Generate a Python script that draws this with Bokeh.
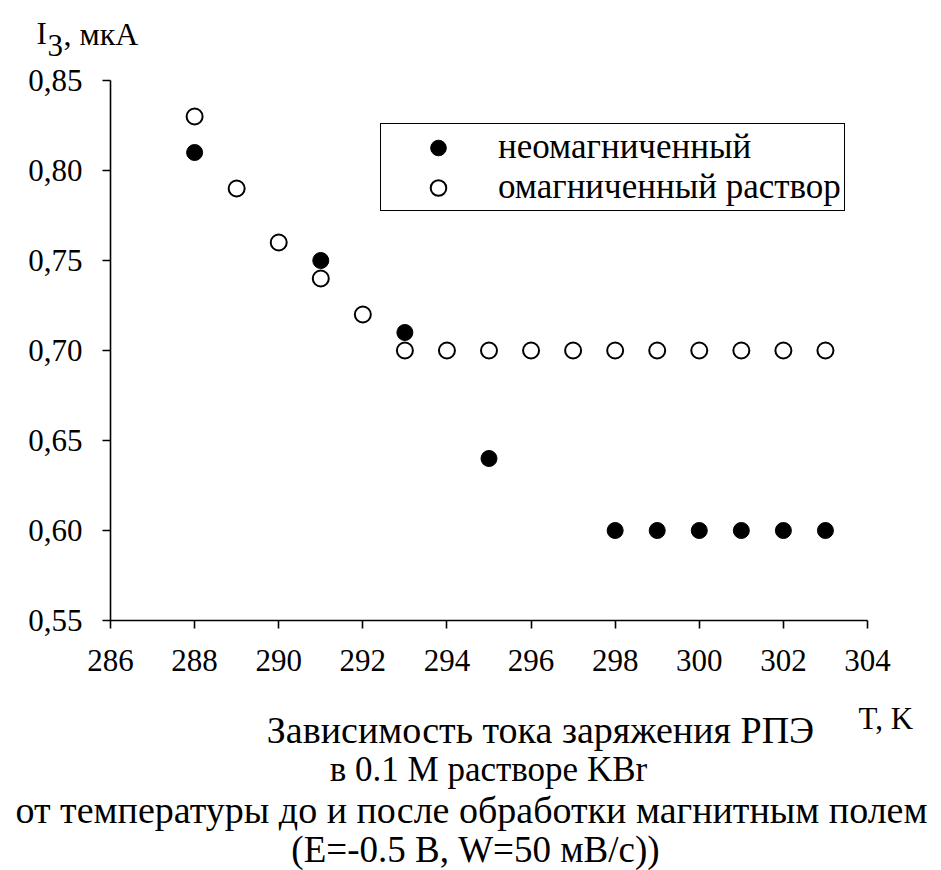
from bokeh.plotting import figure
from bokeh.models import (FixedTicker, CustomJSTickFormatter, Label, Legend, LegendItem)
from bokeh.embed import file_html
from bokeh.resources import INLINE

# ---- data ----
t_plain = [288, 291, 293, 295, 298, 299, 300, 301, 302, 303]
i_plain = [0.81, 0.75, 0.71, 0.64, 0.60, 0.60, 0.60, 0.60, 0.60, 0.60]
t_magn = [288, 289, 290, 291, 292, 293, 294, 295, 296, 297, 298, 299, 300, 301, 302, 303]
i_magn = [0.83, 0.79, 0.76, 0.74, 0.72, 0.70, 0.70, 0.70, 0.70, 0.70, 0.70, 0.70, 0.70, 0.70, 0.70, 0.70]
x_ticks = [286, 288, 290, 292, 294, 296, 298, 300, 302, 304]
y_ticks = [0.55, 0.60, 0.65, 0.70, 0.75, 0.80, 0.85]
legend_labels = ["неомагниченный", "омагниченный раствор"]
y_title_parts = ["I", "3", ", мкА"]
x_title = "T, K"
caption = ["Зависимость тока заряжения РПЭ",
           "в 0.1 М растворе KBr",
           "от температуры до и после обработки магнитным полем",
           "(Е=-0.5 В, W=50 мВ/с))"]

FONT = "Liberation Serif"
W, H = 941, 870
# pixel geometry of the plotting box inside the canvas
L, R, T, B = 110, 867, 80, 620
X0, X1 = 286, 304
Y0, Y1 = 0.55, 0.85
sx = (R - L) / (X1 - X0)
sy = (B - T) / (Y1 - Y0)
xr = (X0 - L / sx, X1 + (W - R) / sx)
yr = (Y0 - (H - B) / sy, Y1 + T / sy)

p = figure(width=W, height=H, x_range=xr, y_range=yr,
           output_backend="svg", toolbar_location=None, min_border=0,
           min_border_left=0, min_border_right=0, min_border_top=0, min_border_bottom=0)
p.outline_line_color = None
p.xgrid.visible = False
p.ygrid.visible = False
p.background_fill_color = "white"
p.border_fill_color = "white"

for ax in (p.xaxis[0], p.yaxis[0]):
    ax.axis_line_width = 1.6
    ax.axis_line_color = "black"
    ax.major_tick_line_color = "black"
    ax.major_tick_line_width = 1.6
    ax.major_tick_out = 8
    ax.major_tick_in = 0
    ax.minor_tick_line_color = None
    ax.major_label_text_font = FONT
    ax.major_label_text_font_size = "31px"
    ax.major_label_text_color = "black"

p.xaxis[0].ticker = FixedTicker(ticks=x_ticks)
p.yaxis[0].ticker = FixedTicker(ticks=y_ticks)
p.xaxis[0].bounds = (X0, X1)
p.yaxis[0].bounds = (Y0, Y1)
p.xaxis[0].fixed_location = Y0
p.yaxis[0].fixed_location = X0
p.yaxis[0].formatter = CustomJSTickFormatter(code="return tick.toFixed(2).replace('.', ',');")
p.xaxis[0].major_label_standoff = 21
p.yaxis[0].major_label_standoff = 20

r_plain = p.scatter(t_plain, i_plain, marker="circle", size=16,
                    fill_color="black", line_color="black", line_width=1)
r_magn = p.scatter(t_magn, i_magn, marker="circle", size=16,
                   fill_color="white", line_color="black", line_width=2)

legend = Legend(items=[LegendItem(label=legend_labels[0], renderers=[r_plain]),
                       LegendItem(label=legend_labels[1], renderers=[r_magn])],
                location=(380, H - 211), padding=3, spacing=0,
                glyph_width=108, glyph_height=39, label_height=39, label_standoff=6,
                label_text_font=FONT, label_text_font_size="35px",
                label_text_color="black",
                border_line_color="black", border_line_width=1, border_line_alpha=1.0,
                background_fill_color="white", background_fill_alpha=1.0)
p.add_layout(legend, "center")


def dx(px):
    return xr[0] + px / sx


def dy(py):
    return yr[1] - py / sy


def add_text(txt, px, py, size, align="left"):
    p.add_layout(Label(x=dx(px), y=dy(py), text=txt, text_font=FONT,
                       text_font_size=size, text_align=align,
                       text_baseline="alphabetic", text_color="black"))


# y axis title  I3, мкА
add_text(y_title_parts[0], 36, 33, "31px")
add_text(y_title_parts[1], 47, 45, "31px")
add_text(y_title_parts[2], 63, 33, "32px")
# x axis title
add_text(x_title, 858, 718, "31px")
# caption lines
for txt, cx, by, fs in zip(caption, [540, 488, 471, 475], [729, 769, 809, 849],
                           ["38px", "35px", "38px", "37px"]):
    add_text(txt, cx, by, fs, align="center")

open("out.html", "w").write(file_html(p, INLINE))
